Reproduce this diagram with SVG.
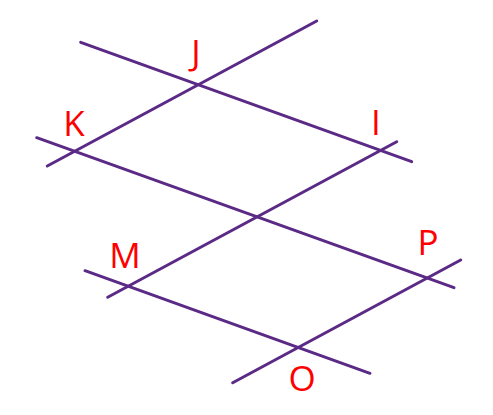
<svg xmlns="http://www.w3.org/2000/svg" width="493" height="415" viewBox="0 0 493 415">
<style>
.ln{stroke:#5B2A86;stroke-width:3;stroke-linecap:round;fill:none}
.lb{fill:#FF0000;font-family:"Open Sans","Liberation Sans",sans-serif;font-size:35px;text-anchor:middle}
</style>
<rect width="493" height="415" fill="#fff"/>
<g id="connectors">
<line class="ln" x1="80.7" y1="42.3" x2="411.7" y2="161.7"/>
<line class="ln" x1="47.3" y1="166" x2="316.7" y2="21"/>
<line class="ln" x1="36.7" y1="137.7" x2="454" y2="287.7"/>
<line class="ln" x1="107.7" y1="297.3" x2="396.7" y2="141.7"/>
<line class="ln" x1="85" y1="270.7" x2="370" y2="373.3"/>
<line class="ln" x1="232.7" y1="382.7" x2="460.7" y2="260"/>
</g>
<g id="J"><text class="lb" x="196" y="65">J</text></g>
<g id="K"><text class="lb" x="74" y="136">K</text></g>
<g id="I"><text class="lb" x="376" y="135">I</text></g>
<g id="M"><text class="lb" x="125" y="268">M</text></g>
<g id="P"><text class="lb" x="428" y="255">P</text></g>
<g id="O"><text class="lb" x="302" y="391">O</text></g>
</svg>
